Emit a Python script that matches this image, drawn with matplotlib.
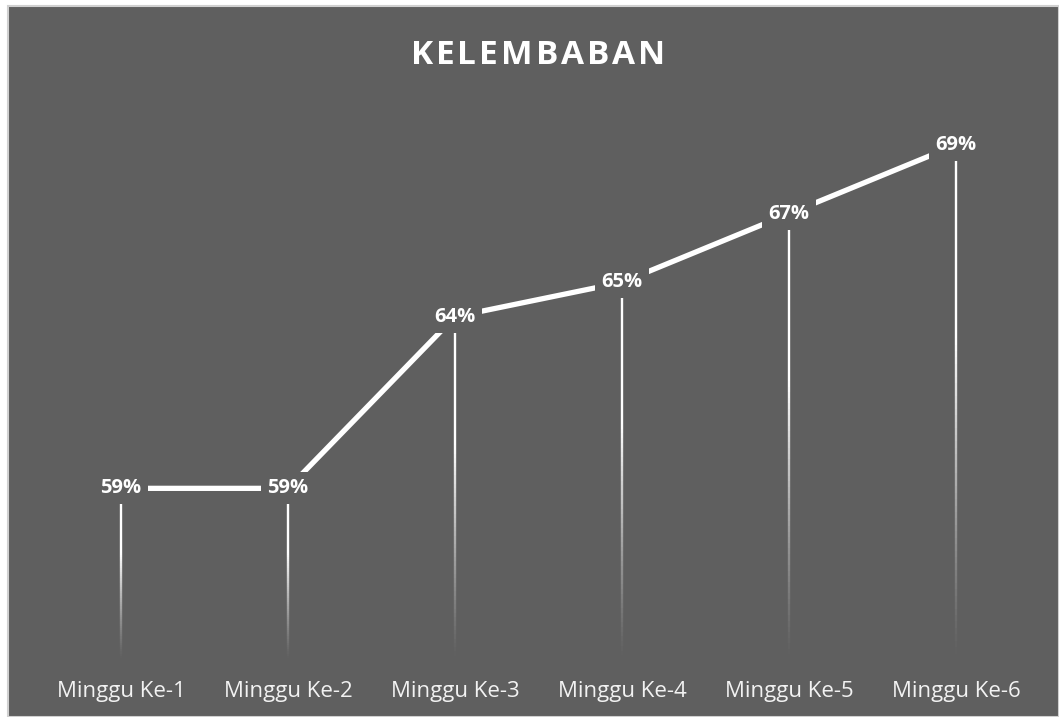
import matplotlib
matplotlib.use("Agg")
import matplotlib.pyplot as plt
import numpy as np
from matplotlib.collections import LineCollection
from matplotlib.patches import Rectangle

categories = ["Minggu Ke-1", "Minggu Ke-2", "Minggu Ke-3", "Minggu Ke-4", "Minggu Ke-5", "Minggu Ke-6"]
values = [0.59, 0.59, 0.64, 0.65, 0.67, 0.69]
labels = ["59%", "59%", "64%", "65%", "67%", "69%"]
title = "KELEMBABAN"

BG = "#5f5f5f"
W, H = 1059, 717
fig = plt.figure(figsize=(W / 100, H / 100), dpi=100, facecolor="white")
fig.patches.append(Rectangle((8 / W, 0), 1 - 8 / W, 1 - 6 / H, transform=fig.transFigure,
                             facecolor=BG, edgecolor="#d0d0d0", linewidth=1.5, zorder=-5))

ax = fig.add_axes([37.5 / W, 57 / H, (1039.5 - 37.5) / W, (660 - 110.7) / H])
ax.set_facecolor("none")
ax.set_zorder(2)
ymin, ymax = 0.54, 0.70
x = np.arange(len(categories))
ax.set_xlim(-0.5, len(categories) - 0.5)
ax.set_ylim(ymin, ymax)

# gradient drop lines
N = 80
for xi, v in zip(x, values):
    ys = np.linspace(ymin, v, N + 1)
    segs = [[(xi, ys[i]), (xi, ys[i + 1])] for i in range(N)]
    t = np.linspace(0, 1, N)
    alphas = np.clip(t * 1.6, 0, 1) ** 1.2
    cols = [(1, 1, 1, a) for a in alphas]
    lc = LineCollection(segs, colors=cols, linewidths=1.7, zorder=1)
    ax.add_collection(lc)

ax.plot(x, values, color="white", linewidth=3.8, zorder=2, solid_capstyle="butt")

for xi, v, lab in zip(x, values, labels):
    ax.text(xi, v, lab, ha="center", va="center", fontsize=14.5, fontweight="bold",
            color="white", family="Open Sans", zorder=3,
            bbox=dict(boxstyle="square,pad=0.3", facecolor=BG, edgecolor="none"))

ax.set_xticks(x)
ax.set_xticklabels(categories, fontsize=16, color="#f2f2f2", family="Open Sans")
ax.tick_params(axis="x", length=0, pad=15)
ax.set_yticks([])
for s in ax.spines.values():
    s.set_visible(False)

# title with letter spacing
fig.canvas.draw()
renderer = fig.canvas.get_renderer()
spacing = 3.0  # px
tprops = dict(fontsize=24, fontweight="bold", color="white", family="Open Sans")
widths = []
for ch in title:
    t = fig.text(0, 0, ch, **tprops)
    widths.append(t.get_window_extent(renderer).width)
    t.remove()
total = sum(widths) + spacing * (len(title) - 1)
xpos = 538 - total / 2
for ch, w in zip(title, widths):
    fig.text(xpos / W, 1 - 55 / H, ch, ha="left", va="center", **tprops)
    xpos += w + spacing

fig.savefig("out.png", dpi=100, facecolor=fig.get_facecolor())
